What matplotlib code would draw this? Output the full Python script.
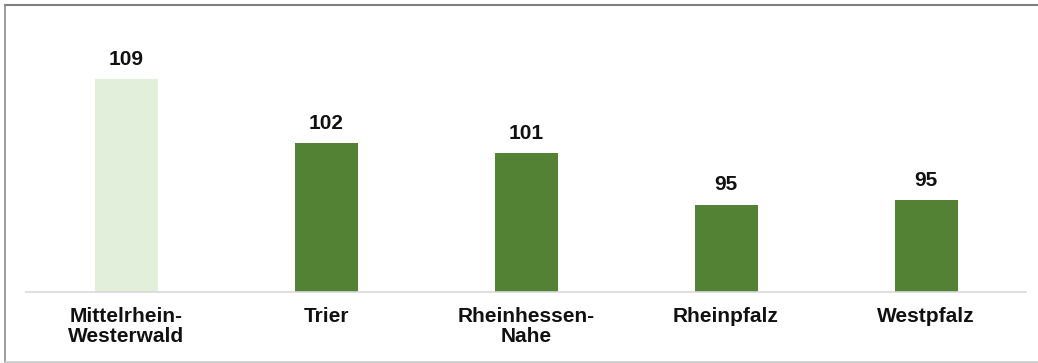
import matplotlib.pyplot as plt
from matplotlib.lines import Line2D

# Daten
regionen = ['Mittelrhein-\nWesterwald', 'Trier', 'Rheinhessen-\nNahe', 'Rheinpfalz', 'Westpfalz']
werte = [108.8, 101.7, 100.6, 94.9, 95.4]
farben = ['#e2efda', '#548235', '#548235', '#548235', '#548235']

plt.rcParams['font.family'] = ['Liberation Sans', 'DejaVu Sans']

W, H = 1038, 363
fig = plt.figure(figsize=(W / 100, H / 100), dpi=100)
ax = fig.add_axes([26 / W, (H - 292) / H, 1000 / W, 272 / H])

balken = ax.bar(range(len(regionen)), werte, width=0.315, color=farben)
ax.bar_label(balken, labels=[f'{v:.0f}' for v in werte], padding=7.5,
             fontsize=15, fontweight='bold', color='#111111')

ax.set_xlim(-0.5, len(regionen) - 0.5)
ax.set_ylim(85.2, 115.4)
ax.set_xticks(range(len(regionen)))
ax.set_xticklabels(regionen, fontsize=15, fontweight='bold', color='#111111',
                   linespacing=1.12)
ax.tick_params(axis='x', length=0, pad=10.5)
ax.set_yticks([])
for s in ['top', 'left', 'right']:
    ax.spines[s].set_visible(False)
ax.spines['bottom'].set_color('#d9d9d9')
ax.spines['bottom'].set_linewidth(1.2)

# Rahmen um die Grafik
fig.add_artist(Line2D([5 / W, 1], [1 - 5 / H, 1 - 5 / H], transform=fig.transFigure,
                      color='#7f7f7f', lw=1.5))
fig.add_artist(Line2D([5 / W, 5 / W], [1.5 / H, 1 - 5 / H], transform=fig.transFigure,
                      color='#8c8c8c', lw=1.2))
fig.add_artist(Line2D([5 / W, 1], [1.5 / H, 1.5 / H], transform=fig.transFigure,
                      color='#c8c8c8', lw=1.2))

fig.savefig('out.png', dpi=100)
